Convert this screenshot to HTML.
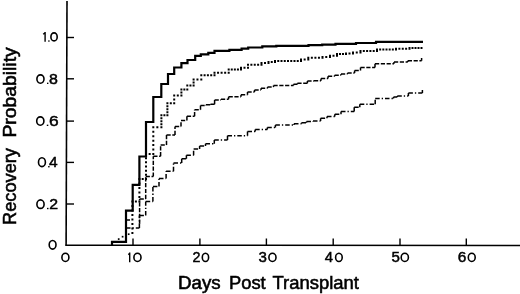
<!DOCTYPE html>
<html><head><meta charset="utf-8"><style>
html,body{margin:0;padding:0;background:#fff;}
svg{display:block;filter:grayscale(1);}
.num{font-family:"Liberation Sans",sans-serif;font-size:14px;fill:#000;stroke:#000;stroke-width:0.45px;}
.title{font-family:"Liberation Sans",sans-serif;font-size:17px;fill:#000;stroke:#000;stroke-width:0.55px;white-space:pre;}
</style></head><body>
<svg width="520" height="294" viewBox="0 0 520 294">
<rect width="520" height="294" fill="#fff"/>
<line x1="67.0" y1="1" x2="66.1" y2="245.5" stroke="#000" stroke-width="1.6"/>
<line x1="65.3" y1="245.2" x2="520" y2="245.6" stroke="#000" stroke-width="1.5"/>
<line x1="66.5" y1="37.5" x2="74" y2="37.5" stroke="#000" stroke-width="1.4"/>
<line x1="66.5" y1="78.8" x2="74" y2="78.8" stroke="#000" stroke-width="1.4"/>
<line x1="66.5" y1="121.1" x2="74" y2="121.1" stroke="#000" stroke-width="1.4"/>
<line x1="66.5" y1="162.4" x2="74" y2="162.4" stroke="#000" stroke-width="1.4"/>
<line x1="66.5" y1="204.0" x2="74" y2="204.0" stroke="#000" stroke-width="1.4"/>
<line x1="133" y1="238.5" x2="133" y2="245" stroke="#000" stroke-width="1.4"/>
<line x1="199.9" y1="238.5" x2="199.9" y2="245" stroke="#000" stroke-width="1.4"/>
<line x1="266.4" y1="238.5" x2="266.4" y2="245" stroke="#000" stroke-width="1.4"/>
<line x1="333.2" y1="238.5" x2="333.2" y2="245" stroke="#000" stroke-width="1.4"/>
<line x1="400" y1="238.5" x2="400" y2="245" stroke="#000" stroke-width="1.4"/>
<line x1="466.3" y1="238.5" x2="466.3" y2="245" stroke="#000" stroke-width="1.4"/>
<path d="M112 245.3 H112 V241.9 H126 V210.6 H132.7 V184.8 H139.4 V156.5 H146 V122 H153.3 V97 H161.3 V84 H168 V74 H174.2 V67.5 H181.4 V63.2 H187.5 V60 H195.2 V55.8 H200.8 V54.4 H208.3 V52.9 H214.5 V50.8 H229.4 V49.8 H241.6 V48.6 H248.2 V47.5 H262.3 V46.3 H276.3 V45.8 H308.5 V45.1 H322.2 V44.6 H335.5 V43.8 H356 V43.0 H376 V41.9 H423" fill="none" stroke="#000" stroke-width="2.2" stroke-linejoin="miter"/>
<path d="M131.40 232.10h2.0v2.0h-2.0zM131.40 232.10h2.0v2.0h-2.0zM131.40 227.57h2.0v2.0h-2.0zM131.40 223.04h2.0v2.0h-2.0zM131.40 218.51h2.0v2.0h-2.0zM131.40 213.99h2.0v2.0h-2.0zM131.40 209.46h2.0v2.0h-2.0zM131.40 204.93h2.0v2.0h-2.0zM131.40 200.40h2.0v2.0h-2.0zM134.90 200.40h2.0v2.0h-2.0zM138.40 200.40h2.0v2.0h-2.0zM138.40 195.92h2.0v2.0h-2.0zM138.40 191.44h2.0v2.0h-2.0zM138.40 186.96h2.0v2.0h-2.0zM138.40 182.48h2.0v2.0h-2.0zM138.40 178.00h2.0v2.0h-2.0zM141.70 178.00h2.0v2.0h-2.0zM145.00 178.00h2.0v2.0h-2.0zM145.00 173.83h2.0v2.0h-2.0zM145.00 169.67h2.0v2.0h-2.0zM145.00 165.50h2.0v2.0h-2.0zM145.00 161.33h2.0v2.0h-2.0zM145.00 157.17h2.0v2.0h-2.0zM145.00 153.00h2.0v2.0h-2.0zM148.65 153.00h2.0v2.0h-2.0zM152.30 153.00h2.0v2.0h-2.0zM152.30 148.55h2.0v2.0h-2.0zM152.30 144.10h2.0v2.0h-2.0zM152.30 139.65h2.0v2.0h-2.0zM152.30 135.20h2.0v2.0h-2.0zM152.30 130.75h2.0v2.0h-2.0zM152.30 126.30h2.0v2.0h-2.0zM156.35 126.30h2.0v2.0h-2.0zM160.40 126.30h2.0v2.0h-2.0zM160.40 123.28h2.0v2.0h-2.0zM160.40 120.25h2.0v2.0h-2.0zM160.40 117.22h2.0v2.0h-2.0zM160.40 114.20h2.0v2.0h-2.0zM163.40 114.20h2.0v2.0h-2.0zM166.40 114.20h2.0v2.0h-2.0zM166.40 111.22h2.0v2.0h-2.0zM166.40 108.25h2.0v2.0h-2.0zM166.40 105.28h2.0v2.0h-2.0zM166.40 102.30h2.0v2.0h-2.0zM169.80 102.30h2.0v2.0h-2.0zM173.20 102.30h2.0v2.0h-2.0zM173.20 98.40h2.0v2.0h-2.0zM173.20 94.50h2.0v2.0h-2.0zM176.80 94.50h2.0v2.0h-2.0zM180.40 94.50h2.0v2.0h-2.0zM180.40 91.55h2.0v2.0h-2.0zM180.40 88.60h2.0v2.0h-2.0zM183.35 88.60h2.0v2.0h-2.0zM186.30 88.60h2.0v2.0h-2.0zM186.30 84.40h2.0v2.0h-2.0zM189.45 84.40h2.0v2.0h-2.0zM192.60 84.40h2.0v2.0h-2.0zM192.60 81.40h2.0v2.0h-2.0zM192.60 78.40h2.0v2.0h-2.0zM196.45 78.40h2.0v2.0h-2.0zM200.30 78.40h2.0v2.0h-2.0zM200.30 74.20h2.0v2.0h-2.0zM203.60 74.20h2.0v2.0h-2.0zM206.90 74.20h2.0v2.0h-2.0zM210.20 74.20h2.0v2.0h-2.0zM213.50 74.20h2.0v2.0h-2.0zM213.50 71.70h2.0v2.0h-2.0zM217.05 71.70h2.0v2.0h-2.0zM220.60 71.70h2.0v2.0h-2.0zM224.15 71.70h2.0v2.0h-2.0zM227.70 71.70h2.0v2.0h-2.0zM227.70 68.40h2.0v2.0h-2.0zM230.77 68.40h2.0v2.0h-2.0zM233.85 68.40h2.0v2.0h-2.0zM236.93 68.40h2.0v2.0h-2.0zM240.00 68.40h2.0v2.0h-2.0zM240.00 66.70h2.0v2.0h-2.0zM243.50 66.70h2.0v2.0h-2.0zM247.00 66.70h2.0v2.0h-2.0zM247.00 63.80h2.0v2.0h-2.0zM250.38 63.80h2.0v2.0h-2.0zM253.75 63.80h2.0v2.0h-2.0zM257.12 63.80h2.0v2.0h-2.0zM260.50 63.80h2.0v2.0h-2.0zM260.50 62.10h2.0v2.0h-2.0zM264.00 62.10h2.0v2.0h-2.0zM267.50 62.10h2.0v2.0h-2.0zM267.50 60.90h2.0v2.0h-2.0zM270.75 60.90h2.0v2.0h-2.0zM274.00 60.90h2.0v2.0h-2.0zM274.00 60.10h2.0v2.0h-2.0zM277.25 60.10h2.0v2.0h-2.0zM280.50 60.10h2.0v2.0h-2.0zM283.75 60.10h2.0v2.0h-2.0zM287.00 60.10h2.0v2.0h-2.0zM290.25 60.10h2.0v2.0h-2.0zM293.50 60.10h2.0v2.0h-2.0zM296.75 60.10h2.0v2.0h-2.0zM300.00 60.10h2.0v2.0h-2.0zM300.00 58.40h2.0v2.0h-2.0zM303.65 58.40h2.0v2.0h-2.0zM307.30 58.40h2.0v2.0h-2.0zM307.30 56.70h2.0v2.0h-2.0zM310.85 56.70h2.0v2.0h-2.0zM314.40 56.70h2.0v2.0h-2.0zM317.95 56.70h2.0v2.0h-2.0zM321.50 56.70h2.0v2.0h-2.0zM321.50 55.90h2.0v2.0h-2.0zM325.25 55.90h2.0v2.0h-2.0zM329.00 55.90h2.0v2.0h-2.0zM329.00 54.80h2.0v2.0h-2.0zM332.50 54.80h2.0v2.0h-2.0zM336.00 54.80h2.0v2.0h-2.0zM336.00 53.00h2.0v2.0h-2.0zM339.00 53.00h2.0v2.0h-2.0zM342.00 53.00h2.0v2.0h-2.0zM345.00 53.00h2.0v2.0h-2.0zM345.00 52.60h2.0v2.0h-2.0zM348.50 52.60h2.0v2.0h-2.0zM352.00 52.60h2.0v2.0h-2.0zM352.00 51.60h2.0v2.0h-2.0zM355.75 51.60h2.0v2.0h-2.0zM359.50 51.60h2.0v2.0h-2.0zM359.50 50.10h2.0v2.0h-2.0zM362.80 50.10h2.0v2.0h-2.0zM366.10 50.10h2.0v2.0h-2.0zM369.40 50.10h2.0v2.0h-2.0zM372.70 50.10h2.0v2.0h-2.0zM376.00 50.10h2.0v2.0h-2.0zM376.00 48.40h2.0v2.0h-2.0zM379.17 48.40h2.0v2.0h-2.0zM382.33 48.40h2.0v2.0h-2.0zM385.50 48.40h2.0v2.0h-2.0zM388.67 48.40h2.0v2.0h-2.0zM391.83 48.40h2.0v2.0h-2.0zM395.00 48.40h2.0v2.0h-2.0zM395.00 47.80h2.0v2.0h-2.0zM398.38 47.80h2.0v2.0h-2.0zM401.75 47.80h2.0v2.0h-2.0zM405.12 47.80h2.0v2.0h-2.0zM408.50 47.80h2.0v2.0h-2.0zM408.50 46.90h2.0v2.0h-2.0zM411.50 46.90h2.0v2.0h-2.0zM414.50 46.90h2.0v2.0h-2.0zM417.50 46.90h2.0v2.0h-2.0zM420.50 46.90h2.0v2.0h-2.0z" fill="#000"/>
<rect x="117.85000000000001" y="238.25" width="1.7" height="1.7" fill="#000"/>
<rect x="121.75" y="235.85" width="1.7" height="1.7" fill="#000"/>
<rect x="127.85" y="233.35" width="1.7" height="1.7" fill="#000"/>
<path d="M126 241 V220.1 H130" fill="none" stroke="#000" stroke-width="1.5"/>
<path d="M139.6 223.8 H139.6 M139.6 223.8 V198.9 M139.6 198.9 H145.7 M145.7 198.9 V176.6 M145.7 176.6 H153.3 M153.3 176.6 V156.3 M153.3 156.3 H160.6 M160.6 156.3 V145.0 M160.6 145.0 H166.5 M166.5 145.0 V134.9 M166.5 134.9 H175.0 M175.0 134.9 V126.4 M175.0 126.4 H181.0 M181.0 126.4 V120.4 M181.0 120.4 H186.9 M186.9 120.4 V116.2 M186.9 116.2 H194.6 M194.6 116.2 V109.8 M194.6 109.8 H200.5 M200.5 109.8 V105.6 M200.5 105.6 H206.0 M206.0 105.6 V104.8 M206.0 104.8 H210.5 M210.5 104.8 V104.2 M210.5 104.2 H214.6 M214.6 104.2 V100.0 M214.6 100.0 H221.0 M221.0 100.0 V99.3 M221.0 99.3 H228.6 M228.6 99.3 V96.8 M228.6 96.8 H241.0 M241.0 96.8 V94.7 M241.0 94.7 H247.5 M247.5 94.7 V92.1 M247.5 92.1 H254.5 M254.5 92.1 V90.1 M254.5 90.1 H261.0 M261.0 90.1 V88.2 M261.0 88.2 H267.5 M267.5 88.2 V87.0 M267.5 87.0 H273.5 M273.5 87.0 V85.5 M273.5 85.5 H293.5 M293.5 85.5 V84.3 M293.5 84.3 H297.4 M297.4 84.3 V83.2 M297.4 83.2 H307.4 M307.4 83.2 V81.1 M307.4 81.1 H314.0 M314.0 81.1 V80.7 M314.0 80.7 H321.0 M321.0 80.7 V78.4 M321.0 78.4 H328.0 M328.0 78.4 V76.2 M328.0 76.2 H334.6 M334.6 76.2 V75.3 M334.6 75.3 H341.0 M341.0 75.3 V73.9 M341.0 73.9 H347.5 M347.5 73.9 V73.0 M347.5 73.0 H354.6 M354.6 73.0 V70.5 M354.6 70.5 H360.5 M360.5 70.5 V67.6 M360.5 67.6 H375.0 M375.0 67.6 V63.8 M375.0 63.8 H394.0 M394.0 63.8 V62.1 M394.0 62.1 H407.8 M407.8 62.1 V60.7 M407.8 60.7 H421.6 M421.6 60.7 V58.0" fill="none" stroke="#000" stroke-width="1.5" stroke-dasharray="4.2 1.6"/>
<path d="M126.0 228.0 H139.4 M139.4 228.0 V215.6 M139.4 215.6 H145.7 M145.7 215.6 V201.4 M145.7 201.4 H152.9 M152.9 201.4 V186.6 M152.9 186.6 H159.0 M159.0 186.6 V178.4 M159.0 178.4 H166.1 M166.1 178.4 V171.2 M166.1 171.2 H173.5 M173.5 171.2 V163.1 M173.5 163.1 H181.7 M181.7 163.1 V158.8 M181.7 158.8 H186.4 M186.4 158.8 V155.2 M186.4 155.2 H193.6 M193.6 155.2 V149.1 M193.6 149.1 H199.6 M199.6 149.1 V145.9 M199.6 145.9 H205.5 M205.5 145.9 V143.7 M205.5 143.7 H214.3 M214.3 143.7 V140.1 M214.3 140.1 H227.5 M227.5 140.1 V135.7 M227.5 135.7 H247.5 M247.5 135.7 V131.6 M247.5 131.6 H255.2 M255.2 131.6 V129.4 M255.2 129.4 H267.3 M267.3 129.4 V127.4 M267.3 127.4 H275.4 M275.4 127.4 V125.1 M275.4 125.1 H294.0 M294.0 125.1 V123.8 M294.0 123.8 H301.5 M301.5 123.8 V122.7 M301.5 122.7 H306.5 M306.5 122.7 V121.6 M306.5 121.6 H313.0 M313.0 121.6 V121.0 M313.0 121.0 H320.6 M320.6 121.0 V118.3 M320.6 118.3 H327.0 M327.0 118.3 V116.6 M327.0 116.6 H334.8 M334.8 116.6 V114.2 M334.8 114.2 H341.0 M341.0 114.2 V111.6 M341.0 111.6 H354.2 M354.2 111.6 V107.3 M354.2 107.3 H359.8 M359.8 107.3 V104.3 M359.8 104.3 H375.2 M375.2 104.3 V98.4 M375.2 98.4 H393.5 M393.5 98.4 V97.0 M393.5 97.0 H397.3 M397.3 97.0 V96.0 M397.3 96.0 H408.4 M408.4 96.0 V92.9 M408.4 92.9 H422.4 M422.4 92.9 V90.0" fill="none" stroke="#000" stroke-width="1.5" stroke-dasharray="4.5 2 1.3 2"/>
<path d="M43.20 34.30 L45.10 32.70 M45.10 32.10 V41.70" fill="none" stroke="#000" stroke-width="1.4"/>
<rect x="48.20" y="40.35" width="1.40" height="1.35" fill="#000"/>
<ellipse cx="54.05" cy="36.90" rx="3.15" ry="4.00" fill="none" stroke="#000" stroke-width="1.6"/>
<ellipse cx="40.45" cy="79.05" rx="3.55" ry="4.15" fill="none" stroke="#000" stroke-width="1.6"/>
<rect x="47.00" y="82.65" width="1.40" height="1.35" fill="#000"/>
<text transform="translate(48.96,83.70) scale(1.140,1)" class="num" style="font-size:14px">8</text>
<ellipse cx="40.30" cy="121.05" rx="3.60" ry="4.15" fill="none" stroke="#000" stroke-width="1.6"/>
<rect x="46.80" y="124.65" width="1.50" height="1.35" fill="#000"/>
<text transform="translate(49.03,125.70) scale(1.242,1)" class="num" style="font-size:14px">6</text>
<ellipse cx="41.95" cy="162.20" rx="3.45" ry="4.40" fill="none" stroke="#000" stroke-width="1.6"/>
<rect x="48.10" y="166.05" width="1.50" height="1.35" fill="#000"/>
<text transform="translate(49.09,167.10) scale(1.106,1)" class="num" style="font-size:14px">4</text>
<ellipse cx="40.50" cy="204.15" rx="3.60" ry="4.25" fill="none" stroke="#000" stroke-width="1.6"/>
<rect x="47.00" y="207.85" width="1.50" height="1.35" fill="#000"/>
<text transform="translate(49.31,208.90) scale(1.134,1)" class="num" style="font-size:14px">2</text>
<ellipse cx="52.60" cy="244.80" rx="3.40" ry="4.30" fill="none" stroke="#000" stroke-width="1.6"/>
<ellipse cx="65.40" cy="257.40" rx="3.50" ry="4.10" fill="none" stroke="#000" stroke-width="1.6"/>
<path d="M128.40 254.70 L129.70 253.10 M129.70 252.50 V262.30" fill="none" stroke="#000" stroke-width="1.4"/>
<ellipse cx="137.45" cy="257.40" rx="3.55" ry="4.10" fill="none" stroke="#000" stroke-width="1.6"/>
<text transform="translate(192.38,262.00) scale(1.025,1)" class="num" style="font-size:14px">2</text>
<ellipse cx="205.45" cy="257.40" rx="3.15" ry="4.10" fill="none" stroke="#000" stroke-width="1.6"/>
<text transform="translate(258.50,262.00) scale(1.079,1)" class="num" style="font-size:14px">3</text>
<ellipse cx="272.45" cy="257.40" rx="3.55" ry="4.10" fill="none" stroke="#000" stroke-width="1.6"/>
<text transform="translate(324.70,262.00) scale(1.064,1)" class="num" style="font-size:14px">4</text>
<ellipse cx="338.90" cy="257.40" rx="3.30" ry="4.10" fill="none" stroke="#000" stroke-width="1.6"/>
<text transform="translate(391.40,262.00) scale(1.079,1)" class="num" style="font-size:14px">5</text>
<ellipse cx="404.80" cy="257.40" rx="3.60" ry="4.10" fill="none" stroke="#000" stroke-width="1.6"/>
<text transform="translate(457.73,262.00) scale(1.102,1)" class="num" style="font-size:14px">6</text>
<ellipse cx="471.75" cy="257.40" rx="3.45" ry="4.10" fill="none" stroke="#000" stroke-width="1.6"/>
<text transform="translate(178.0,288.7) scale(1.04,1)" class="title" style="font-size:18.0px">Days</text>
<text transform="translate(229.0,288.7) scale(1.02,1)" class="title" style="font-size:18.0px">Post</text>
<text transform="translate(272.5,288.7) scale(1.025,1)" class="title" style="font-size:18.0px">Transplant</text>
<text transform="translate(15.5,225.0) rotate(-90) scale(0.98,1)" class="title" style="font-size:18.6px">Recovery</text>
<text transform="translate(15.5,137.6) rotate(-90) scale(1.04,1)" class="title" style="font-size:18.6px">Probability</text>
</svg>
</body></html>
